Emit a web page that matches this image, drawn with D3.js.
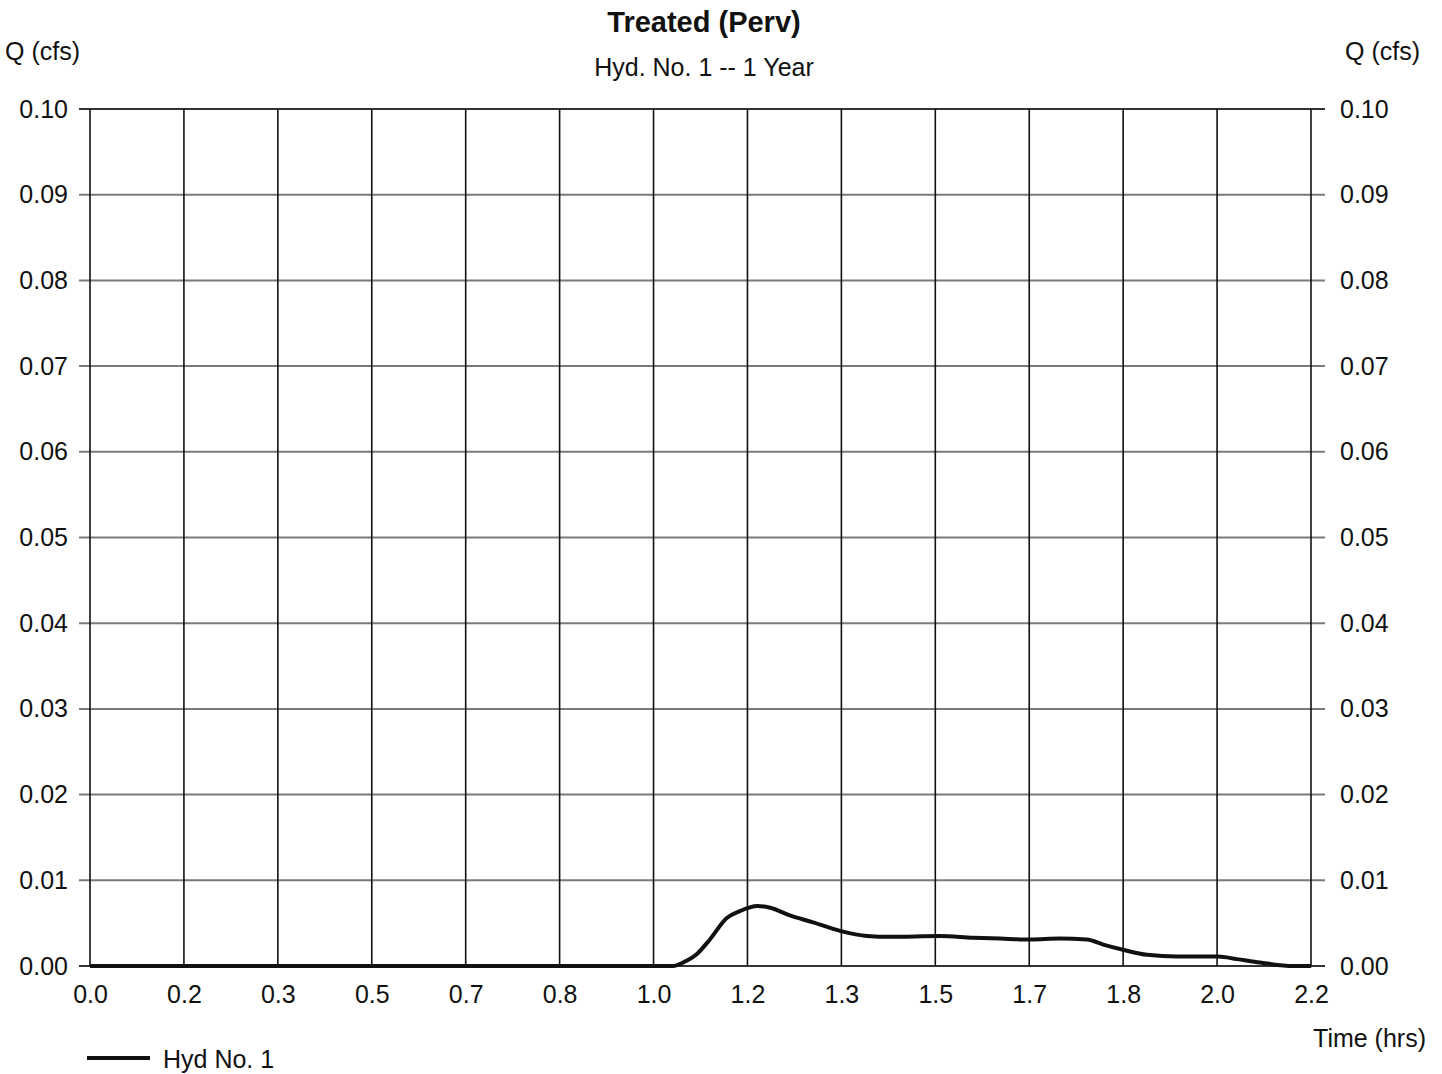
<!DOCTYPE html>
<html>
<head>
<meta charset="utf-8">
<script src="https://cdn.jsdelivr.net/npm/d3@7"></script>
<style>
  html, body { margin: 0; padding: 0; background: #fff; }
  svg text { font-family: "Liberation Sans", Arial, sans-serif; fill: #111; }
</style>
</head>
<body>
<svg id="chart" width="1442" height="1074"></svg>
<script>
// ---- data ----
const title = "Treated (Perv)";
const subtitle = "Hyd. No. 1 -- 1 Year";
const yLabel = "Q (cfs)";
const xLabel = "Time (hrs)";
const seriesName = "Hyd No. 1";

// x ticks every 10 minutes (1/6 hr), labels rounded to one decimal
const xTickValues = [0, 1/6, 2/6, 3/6, 4/6, 5/6, 1, 7/6, 8/6, 9/6, 10/6, 11/6, 2, 13/6];
const xTickLabels = ["0.0","0.2","0.3","0.5","0.7","0.8","1.0","1.2","1.3","1.5","1.7","1.8","2.0","2.2"];
const yTickValues = [0,0.01,0.02,0.03,0.04,0.05,0.06,0.07,0.08,0.09,0.10];
const yTickLabels = ["0.00","0.01","0.02","0.03","0.04","0.05","0.06","0.07","0.08","0.09","0.10"];

const timeHrs = [0, 0.50, 1.000, 1.035, 1.052, 1.077, 1.100, 1.130, 1.153, 1.184, 1.207, 1.242, 1.283, 1.331, 1.379, 1.420,
                 1.508, 1.567, 1.615, 1.668, 1.721, 1.769, 1.798, 1.833, 1.876, 1.929, 2.002, 2.035, 2.076, 2.135, 2.167];
const flowCfs  = [0, 0, 0, 0, 0.0004, 0.0014, 0.0031, 0.0056, 0.0064, 0.0070, 0.0068, 0.0059, 0.0051, 0.0041, 0.0035, 0.0034,
                  0.0035, 0.0033, 0.0032, 0.0031, 0.0032, 0.0031, 0.0025, 0.0019, 0.0013, 0.0011, 0.0011, 0.0008, 0.0004, 0.0000, 0.0000];

// ---- layout ----
const svg = d3.select("#chart");
const pLeft = 90, pRight = 1311, pTop = 109, pBottom = 966;

const x = d3.scaleLinear().domain([0, 13/6]).range([pLeft, pRight]);
const y = d3.scaleLinear().domain([0, 0.10]).range([pBottom, pTop]);

// horizontal gridlines (gray)
svg.append("g").selectAll("line").data(yTickValues).join("line")
  .attr("x1", pLeft - 11).attr("x2", pRight + 14)
  .attr("y1", d => y(d)).attr("y2", d => y(d))
  .attr("stroke", d => (d === 0 || d === 0.10) ? "#333" : "#7a7a7a")
  .attr("stroke-width", 2);

// vertical gridlines (black)
svg.append("g").selectAll("line").data(xTickValues).join("line")
  .attr("x1", d => x(d)).attr("x2", d => x(d))
  .attr("y1", pTop).attr("y2", pBottom)
  .attr("stroke", "#111").attr("stroke-width", 1.6);

const fontFam = "Liberation Sans, Arial, sans-serif";
const fs = "25px";

// left axis labels
const yAxisL = d3.axisLeft(y).tickValues(yTickValues).tickFormat((d, i) => yTickLabels[i]).tickSize(0).tickPadding(22);
const gL = svg.append("g").attr("transform", `translate(${pLeft},0)`).call(yAxisL);
gL.select(".domain").remove();
gL.selectAll("text").style("font-size", fs).attr("font-family", fontFam);

const yAxisR = d3.axisRight(y).tickValues(yTickValues).tickFormat((d, i) => yTickLabels[i]).tickSize(0).tickPadding(29);
const gR = svg.append("g").attr("transform", `translate(${pRight},0)`).call(yAxisR);
gR.select(".domain").remove();
gR.selectAll("text").style("font-size", fs).attr("font-family", fontFam);

const xAxis = d3.axisBottom(x).tickValues(xTickValues).tickFormat((d, i) => xTickLabels[i]).tickSize(0).tickPadding(19);
const gX = svg.append("g").attr("transform", `translate(0,${pBottom})`).call(xAxis);
gX.select(".domain").remove();
gX.selectAll("text").style("font-size", fs).attr("font-family", fontFam);

svg.selectAll(".tick text").attr("fill", "#111");

// the hydrograph
const data = timeHrs.map((t, i) => ({ t, q: flowCfs[i] }));
svg.append("path").datum(data)
  .attr("fill", "none").attr("stroke", "#111").attr("stroke-width", 4)
  .attr("stroke-linejoin", "round")
  .attr("d", d3.line().x(d => x(d.t)).y(d => y(d.q)).curve(d3.curveMonotoneX));

// titles
svg.append("text").attr("x", 704).attr("y", 32).attr("text-anchor", "middle")
  .style("font-size", "29px").style("font-weight", "bold").text(title);
svg.append("text").attr("x", 704).attr("y", 76).attr("text-anchor", "middle")
  .style("font-size", "25px").text(subtitle);
svg.append("text").attr("x", 5).attr("y", 60).style("font-size", fs).text(yLabel);
svg.append("text").attr("x", 1420).attr("y", 60).attr("text-anchor", "end").style("font-size", fs).text(yLabel);
svg.append("text").attr("x", 1426).attr("y", 1047).attr("text-anchor", "end").style("font-size", fs).text(xLabel);

// legend
svg.append("line").attr("x1", 87).attr("x2", 150).attr("y1", 1058).attr("y2", 1058)
  .attr("stroke", "#111").attr("stroke-width", 4);
svg.append("text").attr("x", 163).attr("y", 1068).style("font-size", fs).text(seriesName);
</script>
</body>
</html>
